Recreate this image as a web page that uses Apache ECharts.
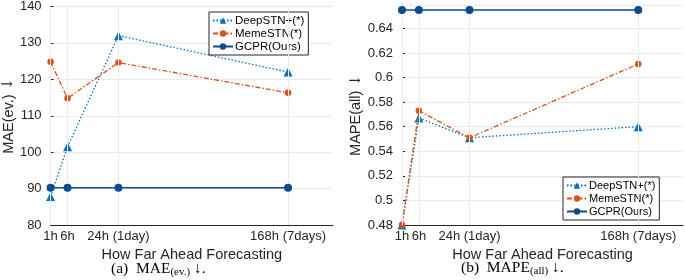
<!DOCTYPE html>
<html>
<head>
<meta charset="utf-8">
<script src="https://cdn.jsdelivr.net/npm/echarts@6/dist/echarts.min.js"></script>
<style>
html, body { margin: 0; padding: 0; background: #fff; }
#chart { width: 685px; height: 280px; }
</style>
</head>
<body>
<div id="chart"></div>
<script>
// forecasting horizons and where they sit on the x axis
var horizons = ["1h", "6h", "24h (1day)", "168h (7days)"];
var xPos = [0, 1, 4, 14];

// (a) MAE(ev.)
var maeDeep = [87.8, 101.5, 132, 122];
var maeMeme = [124.8, 114.8, 124.6, 116.3];
var maeGcpr = [90.2, 90.2, 90.2, 90.2];

// (b) MAPE(all)
var mapeDeep = [0.48, 0.567, 0.551, 0.56];
var mapeMeme = [0.48, 0.573, 0.551, 0.611];
var mapeGcpr = [0.655, 0.655, 0.655, 0.655];

var names = ["DeepSTN+(*)", "MemeSTN(*)", "GCPR(Ours)"];

var FONT = "Liberation Sans";
var INK = "#262626";
var GRID = "#ebebeb";
var BLUE = "#0072bd";
var ORANGE = "#d95319";
var NAVY = "#0e4a8e";

function pairs(ys) {
    return ys.map(function (y, i) { return [xPos[i], y]; });
}

function xAxisFor(idx) {
    return {
        gridIndex: idx,
        type: "value",
        min: 0,
        max: 16.65,
        name: "How Far Ahead Forecasting",
        nameLocation: "middle",
        nameGap: 22,
        nameTextStyle: { fontFamily: FONT, fontSize: 14.5, color: INK },
        axisLine: { lineStyle: { color: INK, width: 1 } },
        axisTick: { inside: true, length: 3, customValues: xPos, lineStyle: { color: INK } },
        axisLabel: {
            customValues: xPos,
            margin: 5,
            fontFamily: FONT,
            fontSize: 13,
            color: INK,
            formatter: function (v) { return horizons[xPos.indexOf(v)]; }
        },
        splitLine: { show: false }
    };
}

function yAxisFor(idx, opts) {
    return {
        gridIndex: idx,
        type: "value",
        min: opts.min,
        max: opts.max,
        interval: opts.interval,
        name: "{t|" + opts.name + " }{a|\u2193}",
        nameLocation: "middle",
        nameGap: opts.nameGap,
        nameTextStyle: {
            rich: {
                t: { fontFamily: FONT, fontSize: 14.5, color: INK },
                a: { fontFamily: "DejaVu Serif", fontSize: 15, color: INK }
            }
        },
        axisLine: { show: true, lineStyle: { color: INK, width: 1 } },
        axisTick: { show: true, inside: true, length: 3, lineStyle: { color: INK } },
        axisLabel: {
            margin: 9,
            fontFamily: FONT,
            fontSize: 13,
            color: INK,
            showMaxLabel: opts.showMax,
            formatter: function (v) { return String(parseFloat(v.toFixed(2))); }
        },
        splitLine: { show: true, lineStyle: { color: GRID, width: 1 } }
    };
}

function seriesFor(idx, deep, meme, gcpr) {
    return [
        {
            type: "line",
            xAxisIndex: idx, yAxisIndex: idx,
            data: [],
            silent: true,
            z: 1,
            markLine: {
                silent: true,
                symbol: "none",
                label: { show: false },
                lineStyle: { color: GRID, type: "solid", width: 1 },
                data: xPos.map(function (v) { return { xAxis: v }; })
            }
        },
        {
            name: names[0], type: "line",
            xAxisIndex: idx, yAxisIndex: idx,
            data: pairs(deep),
            symbol: "triangle", symbolSize: 9,
            itemStyle: { color: BLUE },
            lineStyle: { color: BLUE, width: 1.3, type: [1.5, 2] },
            z: 3
        },
        {
            name: names[1], type: "line",
            xAxisIndex: idx, yAxisIndex: idx,
            data: pairs(meme),
            symbol: "circle", symbolSize: 6.5,
            itemStyle: { color: ORANGE },
            lineStyle: { color: ORANGE, width: 1.3, type: [5, 2, 1.5, 2] },
            z: 4
        },
        {
            name: names[2], type: "line",
            xAxisIndex: idx, yAxisIndex: idx,
            data: pairs(gcpr),
            symbol: "circle", symbolSize: 8,
            itemStyle: { color: NAVY },
            lineStyle: { color: NAVY, width: 1.5 },
            z: 5
        }
    ];
}

function legendFor(left, top, size) {
    return {
        data: names,
        orient: "vertical",
        left: left,
        top: top,
        padding: [2, 4, 2, 3],
        itemGap: 0,
        itemWidth: 20,
        itemHeight: 8,
        backgroundColor: "#fff",
        borderColor: INK,
        borderWidth: 1,
        borderRadius: 0,
        selectedMode: false,
        textStyle: { fontFamily: FONT, fontSize: size, color: "#000", padding: [0, 0, 0, -3], lineHeight: 13 }
    };
}

var capRich = {
    n: { fontFamily: "Liberation Serif", fontSize: 15.5, fill: "#000", lineHeight: 18 },
    s: { fontFamily: "Liberation Serif", fontSize: 11, fill: "#000", lineHeight: 18, padding: [7, 0, 0, 0] }
};

var chart = echarts.init(document.getElementById("chart"));
chart.setOption({
    animation: false,
    grid: [
        { left: 45, top: 5, width: 288, height: 220 },
        { left: 402, top: 5, width: 281, height: 220 }
    ],
    xAxis: [xAxisFor(0), xAxisFor(1)],
    yAxis: [
        yAxisFor(0, { min: 80, max: 140, interval: 10, name: "MAE(ev.)", nameGap: 30, showMax: true }),
        yAxisFor(1, { min: 0.48, max: 0.659, interval: 0.02, name: "MAPE(all)", nameGap: 37, showMax: false })
    ],
    legend: [legendFor(209, 12, 11.5), legendFor(563, 177, 11)],
    series: seriesFor(0, maeDeep, maeMeme, maeGcpr).concat(seriesFor(1, mapeDeep, mapeMeme, mapeGcpr)),
    graphic: [
        {
            type: "text", left: 111, top: 260,
            style: { text: "{n|(a)  MAE}{s|(ev.)}{n| \u2193.}", rich: capRich }
        },
        {
            type: "text", left: 461, top: 259,
            style: { text: "{n|(b)  MAPE}{s|(all)}{n| \u2193.}", rich: capRich }
        }
    ]
});
</script>
</body>
</html>
